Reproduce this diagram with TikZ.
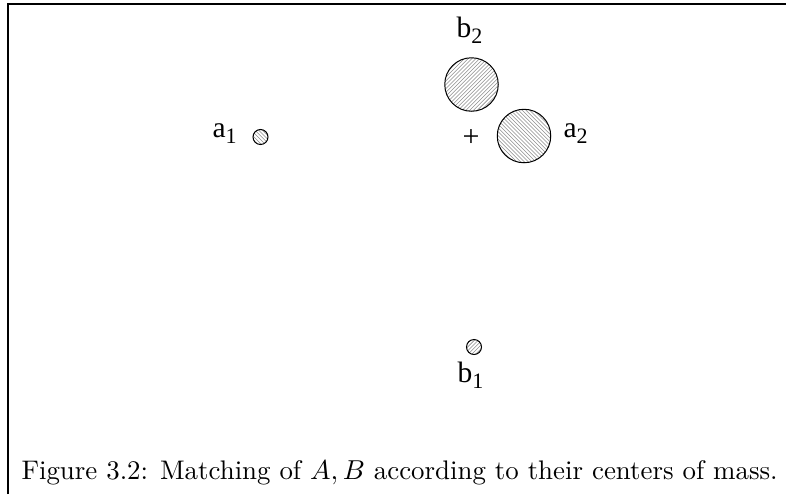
\documentclass[tikz,border=0pt]{standalone}
\usepackage{fontspec}
\newfontfamily\timesf{Liberation Serif}
\usetikzlibrary{calc}
\tikzset{
  hatchline/.style={draw=black!45, line width=0.22pt},
  diskbase/.style={circle, draw=black, line width=0.4pt, inner sep=0pt},
  diskNE/.style={diskbase, path picture={
    \foreach \s in {-90,-86.2,...,90}
      \draw[hatchline] ($(path picture bounding box.center)+(\s-60,60)$) -- ++(120,-120);}},
  diskNW/.style={diskbase, path picture={
    \foreach \s in {-90,-86.2,...,90}
      \draw[hatchline] ($(path picture bounding box.center)+(\s-60,-60)$) -- ++(120,120);}},
  big/.style={minimum size=21.4pt},
  small/.style={minimum size=6pt},
  lab/.style={inner sep=0pt, anchor=base west, font=\timesf\fontsize{11.8}{14}\selectfont},
  captext/.style={inner sep=0pt, anchor=base west, font=\fontsize{10.75}{12}\selectfont},
  framestyle/.style={line width=0.8pt}
}
\newcommand\lsub[1]{\raisebox{-0.22em}{\fontsize{8.8}{10}\selectfont #1}}
\begin{document}
\begin{tikzpicture}[x=0.4pt, y=-0.4pt]
\useasboundingbox (0,0) rectangle (786,494);
\draw[framestyle] (8,494) -- (8,4) -- (786,4);
% disks
\node[diskNW, small] (A1) at (260.5,137) {};
\node[diskNE, big] (B2) at (471.5,84.5) {};
\node[diskNW, big] (A2) at (524,136) {};
\node[diskNE, small] (B1) at (474,347) {};
% centre of mass
\node[inner sep=0pt, font=\timesf\fontsize{12}{14}\selectfont] (cm) at (471,138) {+};
% labels
\node[lab] (la1) at (212,137) {a\lsub{1}};
\node[lab] (lb2) at (456,37) {b\lsub{2}};
\node[lab] (la2) at (563,137) {a\lsub{2}};
\node[lab] (lb1) at (457,382) {b\lsub{1}};
% caption
\node[captext] (caption) at (21,479) {Figure 3.2: Matching of $A,B$ according to their centers of mass.};
\end{tikzpicture}
\end{document}
